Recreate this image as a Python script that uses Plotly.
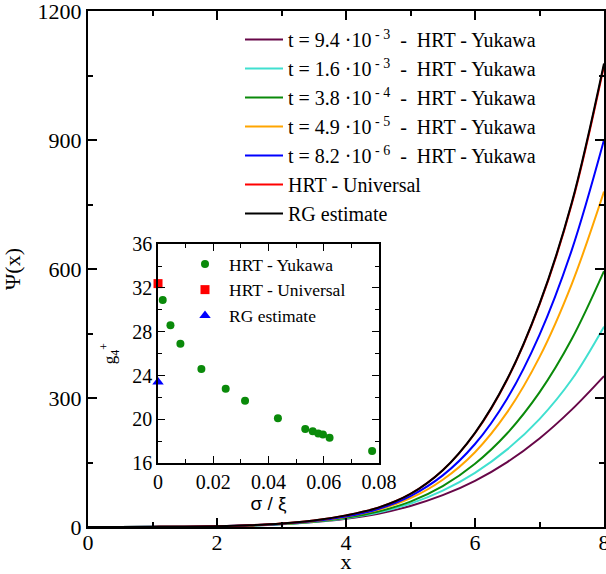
import plotly.graph_objects as go

# ---- main panel data: Psi(x) curves ----
x_grid = [0, 0.5, 1, 1.5, 2, 2.5, 3, 3.5, 4, 4.5, 5, 5.5, 6, 6.5, 7, 7.5, 8]
psi_t94e3 = [0, 0.1, 0.4, 0.9, 1.6, 3.3, 6.5, 11.4, 19.2, 31, 49, 74, 107.5, 151, 206, 273, 351]
psi_t16e3 = [0, 0.1, 0.35, 0.8, 1.7, 3.4, 6.5, 11.8, 20.5, 33.8, 54.4, 84.5, 126, 180.5, 251, 343, 466]
psi_t38e4 = [0, 0.1, 0.35, 0.8, 1.7, 3.6, 7.0, 12.5, 21.5, 36, 59, 95, 147, 218, 313, 437, 595]
psi_t49e5 = [0, 0.05, 0.3, 0.75, 1.7, 3.7, 7.3, 13.5, 24, 40, 67, 110, 174, 267, 395, 565, 780]
psi_t82e6 = [0, 0.05, 0.3, 0.75, 1.8, 3.8, 7.6, 14.0, 24.5, 42, 72, 120, 193, 299, 447, 644, 900]
psi_universal = [0, 0.04, 0.25, 0.7, 1.8, 4.0, 8.0, 15.0, 27, 45, 77, 132, 218, 343, 517, 751, 1073]
psi_rg = [0, 0.04, 0.25, 0.7, 1.8, 4.0, 8.0, 15.0, 27, 45, 77, 132, 219, 344, 519, 754, 1078]

curve_names = [
    "t = 9.4 ·10<sup> - 3</sup>  -  HRT - Yukawa",
    "t = 1.6 ·10<sup> - 3</sup>  -  HRT - Yukawa",
    "t = 3.8 ·10<sup> - 4</sup>  -  HRT - Yukawa",
    "t = 4.9 ·10<sup> - 5</sup>  -  HRT - Yukawa",
    "t = 8.2 ·10<sup> - 6</sup>  -  HRT - Yukawa",
    "HRT - Universal",
    "RG estimate",
]
curve_colors = ["#670748", "#40E0D0", "#0A8A0A", "#FFA500", "#0000FF", "#FF0000", "#000000"]

# ---- inset data: g4+ vs sigma/xi ----
sigma_xi = [0.0017, 0.0045, 0.0081, 0.0157, 0.0245, 0.0315, 0.0434,
            0.0533, 0.0560, 0.0580, 0.0597, 0.0621, 0.0775]
g4_yukawa = [30.9, 28.6, 26.9, 24.6, 22.8, 21.7, 20.1,
             19.1, 18.9, 18.7, 18.6, 18.3, 17.1]
sigma_universal = [0.0]
g4_universal = [32.4]
sigma_rg = [0.0]
g4_rg = [23.4]

SERIF = "Liberation Serif"

fig = go.Figure()
series = [psi_t94e3, psi_t16e3, psi_t38e4, psi_t49e5, psi_t82e6, psi_universal, psi_rg]
for name, col, ys in zip(curve_names, curve_colors, series):
    fig.add_trace(go.Scatter(
        x=x_grid, y=ys, mode="lines", name=name,
        line=dict(color=col, width=2, shape="spline", smoothing=1.0),
        xaxis="x", yaxis="y", legend="legend",
    ))

fig.add_trace(go.Scatter(
    x=sigma_xi, y=g4_yukawa, mode="markers", name="HRT - Yukawa",
    marker=dict(symbol="circle", size=8, color="#0A8A0A"),
    xaxis="x2", yaxis="y2", legend="legend2", cliponaxis=False))
fig.add_trace(go.Scatter(
    x=sigma_universal, y=g4_universal, mode="markers", name="HRT - Universal",
    marker=dict(symbol="square", size=9, color="#FF0000"),
    xaxis="x2", yaxis="y2", legend="legend2", cliponaxis=False))
fig.add_trace(go.Scatter(
    x=sigma_rg, y=g4_rg, mode="markers", name="RG estimate",
    marker=dict(symbol="triangle-up", size=10, color="#0000FF"),
    xaxis="x2", yaxis="y2", legend="legend2", cliponaxis=False))

axis_common = dict(
    showline=True, linecolor="black", mirror="allticks",
    ticks="inside", tickcolor="black", showgrid=False, zeroline=False,
    automargin=False, ticklabeloverflow="allow",
)

fig.update_layout(
    width=606, height=574, autosize=False,
    margin=dict(l=88, r=2, t=11, b=47),
    paper_bgcolor="white", plot_bgcolor="white",
    font=dict(family=SERIF, color="black", size=20),
    xaxis=dict(
        **axis_common, domain=[0, 1], range=[0, 8], tick0=0, dtick=2,
        ticklen=9, tickwidth=1.5, linewidth=2, ticklabelstandoff=-5,
        minor=dict(dtick=1, ticks="inside", ticklen=5, tickcolor="black", tickwidth=1.5),
        tickfont=dict(family=SERIF, size=22),
        title=dict(text="x", font=dict(family=SERIF, size=22), standoff=2),
    ),
    yaxis=dict(
        **axis_common, domain=[0, 1], range=[0, 1200], tick0=0, dtick=300,
        ticklen=9, tickwidth=1.5, linewidth=2,
        minor=dict(dtick=150, ticks="inside", ticklen=5, tickcolor="black", tickwidth=1.5),
        tickfont=dict(family=SERIF, size=22),
        title=dict(text="Ψ(x)", font=dict(family=SERIF, size=22), standoff=20),
    ),
    xaxis2=dict(
        **axis_common, anchor="y2", domain=[0.1357, 0.564], range=[0, 0.08],
        tick0=0, dtick=0.02, ticklen=7, tickwidth=1.2, linewidth=1.5,
        minor=dict(dtick=0.01, ticks="inside", ticklen=4, tickcolor="black", tickwidth=1.2),
        tickfont=dict(family=SERIF, size=20),
        title=dict(text="σ / ξ", font=dict(family="Liberation Sans", size=19), standoff=4),
    ),
    yaxis2=dict(
        **axis_common, anchor="x2", domain=[0.124, 0.548], range=[16, 36],
        tick0=16, dtick=4, ticklen=7, tickwidth=1.2, linewidth=1.5,
        minor=dict(dtick=2, ticks="inside", ticklen=4, tickcolor="black", tickwidth=1.2),
        tickfont=dict(family=SERIF, size=20),
        title=dict(text="g<sub>4</sub><sup>+</sup>", font=dict(family=SERIF, size=17), standoff=12),
    ),
    legend=dict(
        x=(240 - 88) / 516, y=(527 - 20) / 516, xanchor="left", yanchor="top",
        bgcolor="rgba(0,0,0,0)", borderwidth=0,
        font=dict(family=SERIF, size=20), itemwidth=38, tracegroupgap=0,
    ),
    legend2=dict(
        x=(181 - 88) / 516, y=(527 - 246) / 516, xanchor="left", yanchor="top",
        bgcolor="rgba(0,0,0,0)", borderwidth=0,
        font=dict(family=SERIF, size=17.5), itemwidth=38, tracegroupgap=0,
    ),
    showlegend=True,
)

fig.write_html(
    "out.html",
    config={"displayModeBar": False},
    post_script="document.body.style.margin='0';document.body.style.overflow='hidden';",
)
